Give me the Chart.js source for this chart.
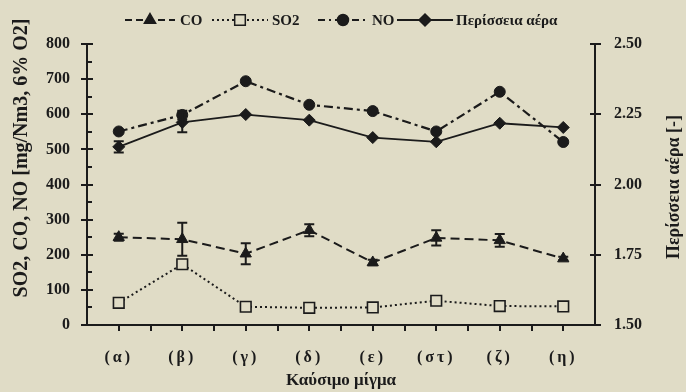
<!DOCTYPE html>
<html><head><meta charset="utf-8">
<script src="https://cdn.jsdelivr.net/npm/chart.js@4/dist/chart.umd.min.js"></script>
<style>html,body{margin:0;padding:0;background:#e0dcc6;} canvas{display:block}</style>
</head><body>
<canvas id="c" width="686" height="392"></canvas>
<script>
const categories = ['(α)','(β)','(γ)','(δ)','(ε)','(στ)','(ζ)','(η)'];
const coValues   = [250, 244, 203, 270, 178, 248, 241, 189];
const coErrors   = [10, 47, 30, 17, 8, 22, 18, 5];
const so2Values  = [63, 173, 52, 49, 50, 69, 54, 53];
const noValues   = [551, 598, 694, 627, 609, 551, 664, 521];
const noErrors   = [0, 12, 0, 0, 0, 0, 0, 0];
const airValues  = [2.134, 2.221, 2.249, 2.229, 2.167, 2.152, 2.218, 2.203];
const airErrors  = [0.02, 0.035, 0, 0, 0, 0, 0, 0];
const leftTicks  = [0, 100, 200, 300, 400, 500, 600, 700, 800];
const leftMinorTicks = [50, 150, 250, 350, 450, 550, 650, 750];
const rightTicks = [1.50, 1.75, 2.00, 2.25, 2.50];

const ink = '#1b1b1b';
const bg = '#e0dcc6';
const serif = "'Liberation Serif', 'DejaVu Serif', serif";

function marker(ctx, style, x, y, r, filled) {
  ctx.beginPath();
  if (style === 'triangle') {
    ctx.moveTo(x, y - r);
    ctx.lineTo(x + r * 0.866, y + r * 0.5);
    ctx.lineTo(x - r * 0.866, y + r * 0.5);
    ctx.closePath();
  } else if (style === 'rect') {
    const s = r * Math.SQRT1_2;
    ctx.rect(x - s, y - s, 2 * s, 2 * s);
  } else if (style === 'circle') {
    ctx.arc(x, y, r, 0, Math.PI * 2);
  } else if (style === 'rectRot') {
    ctx.moveTo(x, y - r); ctx.lineTo(x + r, y); ctx.lineTo(x, y + r); ctx.lineTo(x - r, y); ctx.closePath();
  }
  ctx.fillStyle = filled ? ink : bg;
  ctx.fill();
  ctx.lineWidth = 1.5;
  ctx.setLineDash([]);
  ctx.strokeStyle = ink;
  ctx.stroke();
}

const bgPlugin = {
  id: 'bg',
  beforeDraw(c) {
    const ctx = c.ctx; ctx.save();
    ctx.fillStyle = bg; ctx.fillRect(0, 0, c.width, c.height);
    ctx.restore();
    // letter-spaced category labels
    const xs = c.scales.x;
    if (xs && !xs._spaced) {
      const orig = xs.drawLabels;
      xs.drawLabels = function(area) {
        const cx = this.ctx; cx.save(); cx.letterSpacing = '3px';
        orig.call(this, area); cx.restore();
      };
      xs._spaced = true;
    }
  }
};

const ticksPlugin = {
  id: 'tk',
  afterDraw(c) {
    const {ctx, scales: {x, y, y2}} = c;
    ctx.save();
    ctx.strokeStyle = ink; ctx.lineWidth = 2; ctx.setLineDash([]);
    ctx.beginPath();
    leftTicks.forEach(v => { const p = Math.round(y.getPixelForValue(v)); ctx.moveTo(x.left - 6, p); ctx.lineTo(x.left + 6, p); });
    leftMinorTicks.forEach(v => { const p = Math.round(y.getPixelForValue(v)); ctx.moveTo(x.left, p); ctx.lineTo(x.left + 5, p); });
    rightTicks.forEach(v => { const p = Math.round(y2.getPixelForValue(v)); ctx.moveTo(x.right - 5, p); ctx.lineTo(x.right + 6, p); });
    for (let i = 0; i < categories.length; i++) {
      const p = Math.round(x.getPixelForValue(i));
      ctx.moveTo(p, y.bottom); ctx.lineTo(p, y.bottom + 6);
      if (i < categories.length - 1) {
        const m = Math.round((x.getPixelForValue(i) + x.getPixelForValue(i + 1)) / 2);
        ctx.moveTo(m, y.bottom); ctx.lineTo(m, y.bottom + 6);
      }
    }
    ctx.stroke();
    ctx.restore();
  }
};

const errPlugin = {
  id: 'err',
  afterDatasetsDraw(c) {
    const {ctx, scales} = c;
    const sets = [[coValues, coErrors, scales.y], [noValues, noErrors, scales.y], [airValues, airErrors, scales.y2]];
    ctx.save();
    ctx.strokeStyle = ink; ctx.lineWidth = 2; ctx.setLineDash([]);
    sets.forEach(([vals, errs, sc]) => {
      vals.forEach((v, i) => {
        const e = errs[i]; if (!e) return;
        const px = scales.x.getPixelForValue(i);
        const t = sc.getPixelForValue(v + e), b = sc.getPixelForValue(v - e);
        ctx.beginPath();
        ctx.moveTo(px, t); ctx.lineTo(px, b);
        ctx.moveTo(px - 5, t); ctx.lineTo(px + 5, t);
        ctx.moveTo(px - 5, b); ctx.lineTo(px + 5, b);
        ctx.stroke();
      });
    });
    ctx.restore();
  }
};

const legendItems = [
  {text: 'CO', dash: [7, 4], style: 'triangle', r: 6.5, filled: true, x0: 125, x1: 175, tx: 180},
  {text: 'SO2', dash: [2, 3], style: 'rect', r: 7.5, filled: false, x0: 212, x1: 268, tx: 272},
  {text: 'NO', dash: [7, 4, 2, 4], style: 'circle', r: 5.5, filled: true, x0: 318, x1: 368, tx: 372},
  {text: 'Περίσσεια αέρα', dash: [], style: 'rectRot', r: 6, filled: true, x0: 397, x1: 453, tx: 456}
];

const textPlugin = {
  id: 'txt',
  afterDraw(c) {
    const ctx = c.ctx;
    ctx.save();
    const ly = 20;
    legendItems.forEach(it => {
      ctx.beginPath();
      ctx.setLineDash(it.dash); ctx.lineWidth = 2; ctx.strokeStyle = ink;
      ctx.moveTo(it.x0, ly); ctx.lineTo(it.x1, ly); ctx.stroke();
      marker(ctx, it.style, (it.x0 + it.x1) / 2, ly, it.r, it.filled);
      ctx.fillStyle = ink; ctx.font = 'bold 15px ' + serif;
      ctx.textAlign = 'left'; ctx.textBaseline = 'middle';
      ctx.fillText(it.text, it.tx, ly + 1);
    });
    ctx.fillStyle = ink;
    ctx.font = 'bold 20px ' + serif;
    ctx.textAlign = 'center'; ctx.textBaseline = 'middle';
    ctx.save(); ctx.translate(22, 158); ctx.rotate(-Math.PI / 2);
    ctx.fillText('SO2, CO, NO [mg/Nm3, 6% O2]', 0, 0); ctx.restore();
    ctx.font = 'bold 18px ' + serif;
    ctx.save(); ctx.translate(674, 187); ctx.rotate(-Math.PI / 2);
    ctx.fillText('Περίσσεια αέρα [-]', 0, 0); ctx.restore();
    ctx.restore();
  }
};

new Chart(document.getElementById('c'), {
  type: 'line',
  data: {
    labels: categories,
    datasets: [
      {label: 'CO', data: coValues, yAxisID: 'y', borderColor: ink, borderWidth: 2, borderDash: [9, 5],
       pointStyle: 'triangle', pointRadius: 6.5, pointBackgroundColor: ink, pointBorderColor: ink, pointBorderWidth: 1, tension: 0},
      {label: 'SO2', data: so2Values, yAxisID: 'y', borderColor: ink, borderWidth: 2, borderDash: [2, 3],
       pointStyle: 'rect', pointRadius: 7.5, pointBackgroundColor: bg, pointBorderColor: ink, pointBorderWidth: 1.6, tension: 0},
      {label: 'NO', data: noValues, yAxisID: 'y', borderColor: ink, borderWidth: 2.2, borderDash: [9, 4, 3, 4],
       pointStyle: 'circle', pointRadius: 5.5, pointBackgroundColor: ink, pointBorderColor: ink, pointBorderWidth: 1, tension: 0},
      {label: 'Περίσσεια αέρα', data: airValues, yAxisID: 'y2', borderColor: ink, borderWidth: 1.8,
       pointStyle: 'rectRot', pointRadius: 6, pointBackgroundColor: ink, pointBorderColor: ink, pointBorderWidth: 1, tension: 0}
    ]
  },
  options: {
    responsive: false,
    devicePixelRatio: 1,
    animation: false,
    layout: {padding: {top: 44, left: 0, right: 0, bottom: 0}},
    plugins: {legend: {display: false}, tooltip: {enabled: false}},
    scales: {
      x: {
        type: 'category', offset: true,
        grid: {display: false},
        border: {display: true, color: ink, width: 2},
        ticks: {color: ink, font: {family: serif, size: 16, weight: 'bold'}, padding: 15, maxRotation: 0, autoSkip: false},
        title: {display: true, text: 'Καύσιμο μίγμα', color: ink, font: {family: serif, size: 17, weight: 'bold'}, padding: {top: 0, bottom: 1}},
        afterFit(s) { s.height = 67; }
      },
      y: {
        position: 'left', min: 0, max: 800,
        grid: {display: false},
        border: {display: true, color: ink, width: 2},
        ticks: {color: ink, font: {family: serif, size: 16, weight: 'bold'}, padding: 9},
        afterBuildTicks(s) { s.ticks = leftTicks.map(v => ({value: v})); },
        afterFit(s) { s.width = 87; }
      },
      y2: {
        position: 'right', min: 1.5, max: 2.5,
        grid: {display: false},
        border: {display: true, color: ink, width: 2},
        ticks: {color: ink, font: {family: serif, size: 16, weight: 'bold'}, padding: 11, callback: v => Number(v).toFixed(2)},
        afterBuildTicks(s) { s.ticks = rightTicks.map(v => ({value: v})); },
        afterFit(s) { s.width = 91; }
      }
    }
  },
  plugins: [bgPlugin, ticksPlugin, errPlugin, textPlugin]
});
</script>
</body></html>
